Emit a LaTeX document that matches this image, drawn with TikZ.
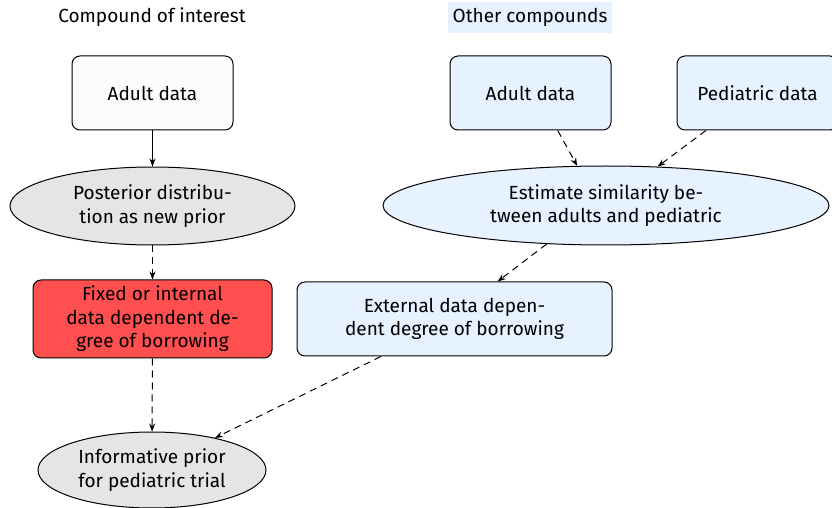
\documentclass[tikz,border=0pt]{standalone}
\usepackage{fontspec}
\setmainfont{Fira Sans}
\usetikzlibrary{shapes.geometric,arrows.meta}
\definecolor{lblue}{RGB}{230,242,255}
\definecolor{lgray}{RGB}{229,229,229}
\definecolor{lred}{RGB}{255,79,79}
\definecolor{offwhite}{RGB}{252,252,252}
\tikzset{
  every node/.style={font=\fontsize{9.5}{11.8}\selectfont, align=center, inner sep=0pt},
  rbox/.style={draw, rounded corners=4pt, line width=0.5pt},
  ell/.style={draw, ellipse, line width=0.5pt},
  conn/.style={line width=0.5pt, -{Stealth[length=4pt,width=3pt]}},
  dconn/.style={conn, dash pattern=on 3.5pt off 2.5pt},
}
\begin{document}
\begin{tikzpicture}[x=0.5pt,y=-0.5pt]
\useasboundingbox (0,0) rectangle (832,508);
\node (t1) at (152,17) {Compound of interest};
\node[fill=lblue, minimum width=82pt, minimum height=15.5pt] (t2) at (530,17.5) {Other compounds};
\node[rbox, fill=offwhite, minimum width=80.5pt, minimum height=37pt] (a) at (152.5,93) {Adult data};
\node[rbox, fill=lblue, minimum width=80.5pt, minimum height=37pt] (oa) at (530.5,93) {Adult data};
\node[rbox, fill=lblue, minimum width=80.5pt, minimum height=37pt] (pd) at (757.5,93) {Pediatric data};
\node[ell, fill=lgray, minimum width=142.5pt, minimum height=39pt] (post) at (152.5,206) {Posterior distribu-\\tion as new prior};
\node[ell, fill=lblue, minimum width=223pt, minimum height=39.5pt] (est) at (606,205.5) {Estimate similarity be-\\tween adults and pediatric};
\node[rbox, fill=lred, minimum width=119.5pt, minimum height=39pt] (fix) at (152.5,319) {Fixed or internal\\data dependent de-\\gree of borrowing};
\node[rbox, fill=lblue, minimum width=157.5pt, minimum height=37pt] (ext) at (454.5,319) {External data depen-\\dent degree of borrowing};
\node[ell, fill=lgray, minimum width=114pt, minimum height=38pt] (inf) at (152,470) {Informative prior\\for pediatric trial};
\draw[conn] (a) -- (post);
\draw[dconn] (post) -- (fix);
\draw[dconn] (fix) -- (inf);
\draw[dconn] (oa.-54) -- (est.126);
\draw[dconn] (pd.-144) -- (est.37);
\draw[dconn] (est.-147) -- (ext.41);
\draw[dconn] (ext.-153) -- (inf.27);
\end{tikzpicture}
\end{document}
